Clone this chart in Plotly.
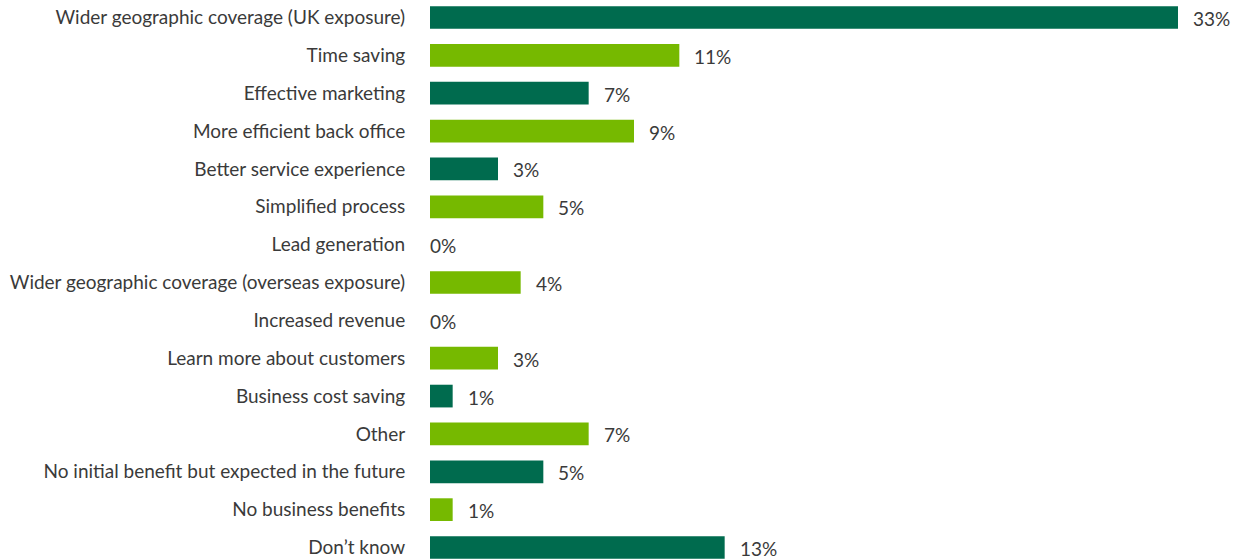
import plotly.graph_objects as go

categories = [
    "Wider geographic coverage (UK exposure)",
    "Time saving",
    "Effective marketing",
    "More efficient back office",
    "Better service experience",
    "Simplified process",
    "Lead generation",
    "Wider geographic coverage (overseas exposure)",
    "Increased revenue",
    "Learn more about customers",
    "Business cost saving",
    "Other",
    "No initial benefit but expected in the future",
    "No business benefits",
    "Don’t know",
]
values = [33, 11, 7, 9, 3, 5, 0, 4, 0, 3, 1, 7, 5, 1, 13]

DARK = "#006B4E"
LIGHT = "#76B900"
TEXT = "#3a3a3a"
FONT = "Lato"
SIZE = 19

colors = [DARK if i % 2 == 0 else LIGHT for i in range(len(categories))]

fig = go.Figure(
    go.Bar(
        x=values,
        y=categories,
        orientation="h",
        marker=dict(color=colors, line=dict(width=0)),
        width=0.6,
        hoverinfo="skip",
    )
)

# value labels placed just to the right of each bar end
for cat, v in zip(categories, values):
    fig.add_annotation(
        x=v,
        y=cat,
        text=f"{v}%",
        showarrow=False,
        xanchor="left",
        yanchor="middle",
        yshift=-1,
        xshift=13 if v > 0 else -2,
        font=dict(family=FONT, size=SIZE, color=TEXT),
    )

px_per_unit = 748 / 33
plot_width = 1244 - 430

fig.update_layout(
    width=1244,
    height=560,
    margin=dict(l=430, r=0, t=0, b=0),
    paper_bgcolor="white",
    plot_bgcolor="white",
    showlegend=False,
    font=dict(family=FONT, size=SIZE, color=TEXT),
    xaxis=dict(
        range=[0, plot_width / px_per_unit],
        visible=False,
        showgrid=False,
        zeroline=False,
    ),
    yaxis=dict(
        type="category",
        categoryorder="array",
        categoryarray=categories,
        range=[14.33, -0.462],
        showgrid=False,
        zeroline=False,
        showline=False,
        ticks="outside",
        ticklen=20,
        tickcolor="rgba(0,0,0,0)",
        tickfont=dict(family=FONT, size=SIZE, color=TEXT),
    ),
)

fig.write_html("out.html")
